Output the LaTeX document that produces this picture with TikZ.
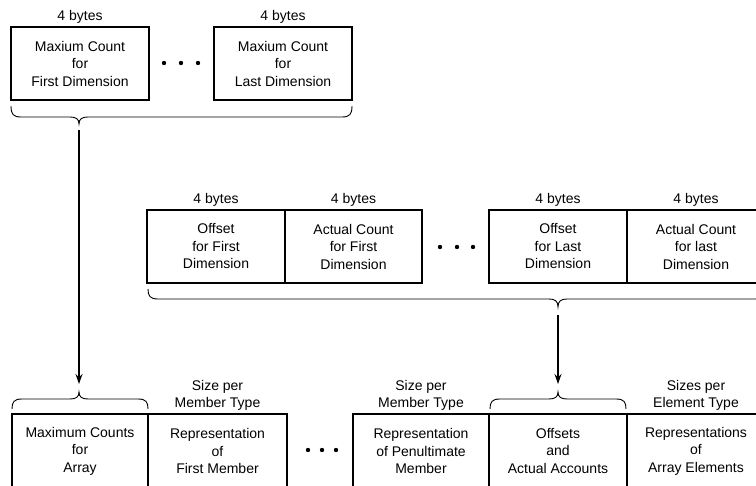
\documentclass[tikz,border=0pt]{standalone}
\usepackage{fontspec}
\setmainfont{Liberation Sans}
\usetikzlibrary{arrows.meta}

\begin{document}
\begin{tikzpicture}[x=1pt,y=1pt,yscale=-1,xscale=1,
  field/.style={draw, line width=2pt, align=center, inner sep=0pt, minimum height=73, font=\fontsize{14}{17.5}\selectfont},
  lbl/.style={align=center, inner sep=0pt, font=\fontsize{14}{17}\selectfont},
  brace/.style={line width=0.9pt},
  link/.style={line width=1.4pt, -{Stealth[length=10pt,width=7pt]}}]
\clip (0,0) rectangle (756,486);

% Top row: maximum counts
\node [field, minimum width=138] (maxfirst) at (80,63.5) {Maxium Count\\for\\First Dimension};
\node [field, minimum width=138] (maxlast) at (283,63.5) {Maxium Count\\for\\Last Dimension};
\node [lbl, anchor=south] (bytesA) at ([yshift=-2.5]maxfirst.north) {4 bytes};
\node [lbl, anchor=south] (bytesB) at ([yshift=-2.5]maxlast.north) {4 bytes};
\foreach \x in {164,181,198} \fill (\x,63) circle (2.2);

% Brace under top row
\draw [brace] (11,106) .. controls (11,114) and (13,117) .. (21,117) -- (70,117) .. controls (76,117) and (79,119) .. (79,124) .. controls (79,119) and (82,117) .. (88,117) -- (342,117) .. controls (350,117) and (352,114) .. (352,106);
\coordinate (topfrom) at (79,130);

% Middle row: offsets and actual counts
\node [field, minimum width=138] (offfirst) at (216,246.5) {Offset\\for First\\Dimension};
\node [field, minimum width=137] (actfirst) at (353.5,246.5) {Actual Count\\for First\\Dimension};
\node [field, minimum width=138] (offlast) at (558,246.5) {Offset\\for Last\\Dimension};
\node [field, minimum width=138] (actlast) at (696,246.5) {Actual Count\\for last\\Dimension};
\node [lbl, anchor=south] (bytesC) at ([yshift=-2.5]offfirst.north) {4 bytes};
\node [lbl, anchor=south] (bytesD) at ([yshift=-2.5]actfirst.north) {4 bytes};
\node [lbl, anchor=south] (bytesE) at ([yshift=-2.5]offlast.north) {4 bytes};
\node [lbl, anchor=south] (bytesF) at ([yshift=-2.5]actlast.north) {4 bytes};
\foreach \x in {440,457,473} \fill (\x,247) circle (2.2);

% Brace under middle row
\draw [brace] (148,289) .. controls (148,296) and (150,299) .. (158,299) -- (549,299) .. controls (555,299) and (558,301) .. (558,307) .. controls (558,301) and (561,299) .. (567,299) -- (755,299) .. controls (763,299) and (765,296) .. (765,289);
\coordinate (midfrom) at (558,315);

% Bottom row: the array layout
\node [field, minimum width=136] (maxcounts) at (80,451) {Maximum Counts\\for\\Array};
\node [field, minimum width=139] (repfirst) at (217.5,451) {Representation\\of\\First Member};
\node [field, minimum width=136] (reppenult) at (421,451) {Representation\\of Penultimate\\Member};
\node [field, minimum width=138] (offsets) at (558,451) {Offsets\\and\\Actual Accounts};
\node [field, minimum width=138] (repelems) at (696,451) {Representations\\of\\Array Elements};
\node [lbl, anchor=south] (sizeA) at ([yshift=-2.5]repfirst.north) {Size per\\Member Type};
\node [lbl, anchor=south] (sizeB) at ([yshift=-2.5]reppenult.north) {Size per\\Member Type};
\node [lbl, anchor=south] (sizeC) at ([yshift=-2.5]repelems.north) {Sizes per\\Element Type};
\foreach \x in {308,322,336} \fill (\x,450) circle (2.2);

% Braces over bottom row
\draw [brace] (12,409) .. controls (12,402) and (14,399) .. (22,399) -- (70,399) .. controls (76,399) and (79,397) .. (79,392) .. controls (79,397) and (82,399) .. (88,399) -- (138,399) .. controls (146,399) and (148,402) .. (148,409);
\draw [brace] (490,409) .. controls (490,402) and (492,399) .. (500,399) -- (549,399) .. controls (555,399) and (558,397) .. (558,392) .. controls (558,397) and (561,399) .. (567,399) -- (616,399) .. controls (624,399) and (626,402) .. (626,409);
\coordinate (topto) at (79,384);
\coordinate (midto) at (558,384);

% Arrows
\draw [link] (topfrom) -- (topto);
\draw [link] (midfrom) -- (midto);

\end{tikzpicture}
\end{document}
